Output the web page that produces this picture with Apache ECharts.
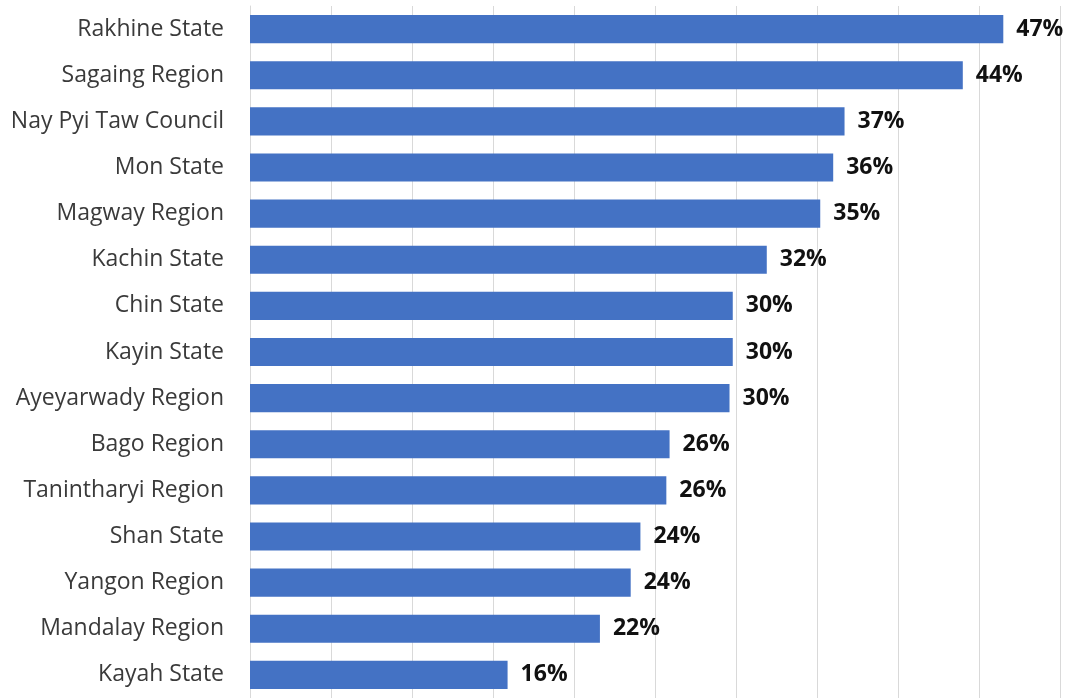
<!DOCTYPE html>
<html>
<head>
<meta charset="utf-8">
<script src="https://cdn.jsdelivr.net/npm/echarts@6/dist/echarts.min.js"></script>
<style>
  html, body { margin: 0; padding: 0; background: #ffffff; }
  #chart { width: 1067px; height: 698px; }
</style>
</head>
<body>
<div id="chart"></div>
<script>
// Regions and states, listed top to bottom
const regions = [
  'Rakhine State', 'Sagaing Region', 'Nay Pyi Taw Council', 'Mon State',
  'Magway Region', 'Kachin State', 'Chin State', 'Kayin State',
  'Ayeyarwady Region', 'Bago Region', 'Tanintharyi Region', 'Shan State',
  'Yangon Region', 'Mandalay Region', 'Kayah State'
];
// Share per region, in percent
const shares = [
  46.5, 44.0, 36.7, 36.0, 35.2, 31.9, 29.8, 29.8,
  29.6, 25.9, 25.7, 24.1, 23.5, 21.6, 15.9
];

const FONT = '"Open Sans", Lato, sans-serif';

const chart = echarts.init(document.getElementById('chart'), null, { renderer: 'canvas' });
chart.setOption({
  animation: false,
  backgroundColor: '#ffffff',
  grid: { left: 250, right: 7, top: 6, bottom: -1, containLabel: false },
  xAxis: {
    type: 'value',
    min: 0,
    max: 50,
    interval: 5,
    axisLabel: { show: false },
    axisLine: { show: false },
    axisTick: { show: false },
    splitLine: { show: true, lineStyle: { color: '#d9d9d9', width: 1 } }
  },
  yAxis: {
    type: 'category',
    inverse: true,
    data: regions,
    axisLine: { show: true, lineStyle: { color: '#d9d9d9', width: 1 } },
    axisTick: { show: false },
    axisLabel: {
      margin: 26,
      color: '#3a3a3a',
      fontFamily: FONT,
      fontSize: 23,
      padding: [4, 0, 0, 0]
    }
  },
  series: [{
    type: 'bar',
    data: shares,
    barCategoryGap: '39%',
    itemStyle: { color: '#4472c4' },
    label: {
      show: true,
      position: 'right',
      distance: 13,
      color: '#111111',
      fontFamily: FONT,
      fontWeight: 'bold',
      fontSize: 23,
      padding: [4, 0, 0, 0],
      formatter: p => Math.round(p.value) + '%'
    }
  }]
});
</script>
</body>
</html>
